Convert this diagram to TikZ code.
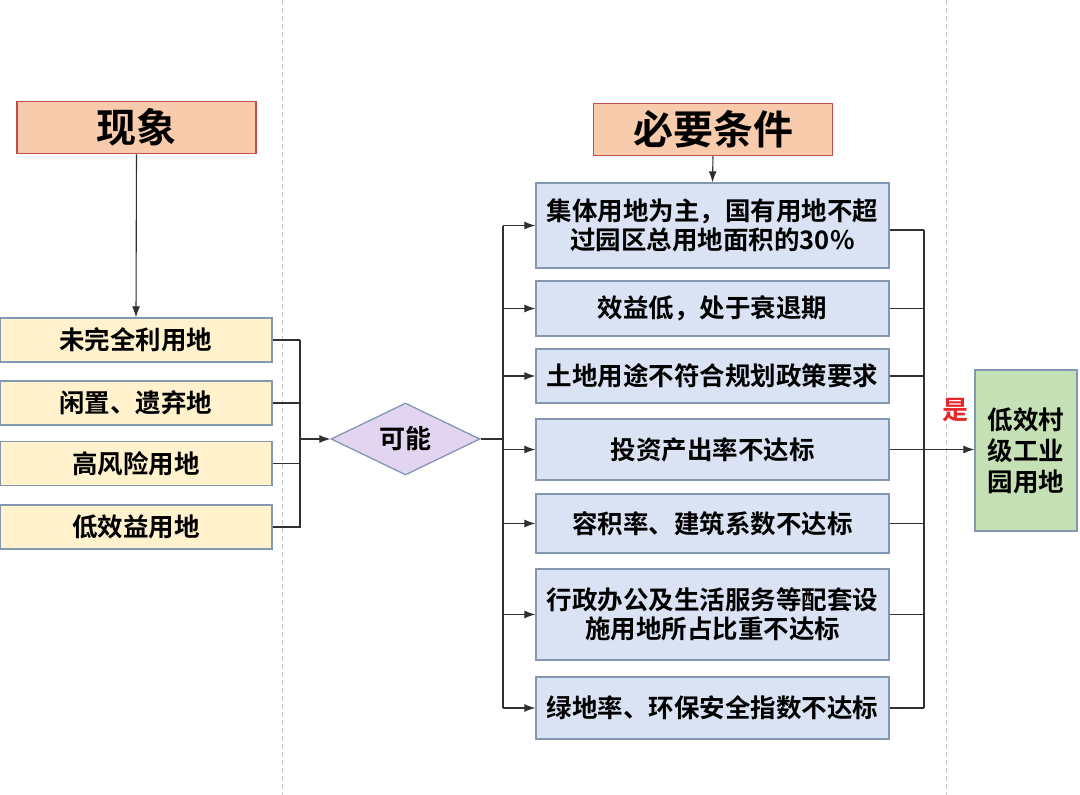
\documentclass[tikz,border=0pt]{standalone}
\usepackage{fontspec}
\setmainfont{Noto Sans CJK SC}[BoldFont={Noto Sans CJK SC Bold}]
\usetikzlibrary{shapes.geometric,arrows.meta}
\definecolor{hdfill}{HTML}{F8CBAD}
\definecolor{hdline}{HTML}{C0504D}
\definecolor{yfill}{HTML}{FFF2CC}
\definecolor{bfill}{HTML}{DAE3F3}
\definecolor{gfill}{HTML}{C5E0B4}
\definecolor{pfill}{HTML}{E2D5F2}
\definecolor{bline}{HTML}{8497B0}
\definecolor{cline}{HTML}{303030}
\definecolor{sep}{HTML}{C8C8C8}
\definecolor{yesred}{HTML}{E8262A}
\tikzset{
  hdbox/.style={draw=hdline,line width=1.5pt,fill=hdfill,minimum width=239pt,minimum height=52pt,inner sep=0pt,font=\fontsize{40}{44}\selectfont\bfseries},
  ybox/.style={draw=bline,line width=1.3pt,fill=yfill,minimum width=272pt,minimum height=44pt,inner sep=0pt,font=\fontsize{25.5}{30}\selectfont\bfseries},
  rbox/.style={draw=bline,line width=1.3pt,fill=bfill,minimum width=353pt,inner sep=0pt,align=center,font=\fontsize{25.5}{29.5}\selectfont\bfseries},
  gbox/.style={draw=bline,line width=1.3pt,fill=gfill,minimum width=102pt,minimum height=161pt,inner sep=0pt,align=center,font=\fontsize{25.5}{31}\selectfont\bfseries},
  dia/.style={diamond,draw=bline,line width=1.3pt,fill=pfill,minimum width=149pt,minimum height=72pt,inner sep=0pt,aspect=2.07,font=\fontsize{26}{30}\selectfont\bfseries},
  conn/.style={draw=cline,line width=1.1pt},
  arr/.style={conn,-{Latex[length=11pt,width=8pt]}},
  sepline/.style={draw=sep,line width=1pt,dash pattern=on 5pt off 3pt}
}
\begin{document}
\begin{tikzpicture}[x=1pt,y=-1pt]
\useasboundingbox[fill=white] (0,0) rectangle (1080,795);
\draw[sepline] (282,0) -- (282,795);
\draw[sepline] (946,0) -- (946,795);

\node[hdbox] (xx) at (136.5,127.5) {现象};
\node[hdbox] (bytj) at (713,129.5) {必要条件};

\node[ybox] (a1) at (136,340) {未完全利用地};
\node[ybox] (a2) at (136,403) {闲置、遗弃地};
\node[ybox] (a3) at (136,463.5) {高风险用地};
\node[ybox] (a4) at (136,527) {低效益用地};

\node[dia] (kn) at (405.5,439) {可能};

\node[rbox,minimum height=85pt] (r1) at (712.5,225.5) {集体用地为主，国有用地不超\\过园区总用地面积的30\%};
\node[rbox,minimum height=55pt] (r2) at (712.5,308.5) {效益低，处于衰退期};
\node[rbox,minimum height=54pt] (r3) at (712.5,376) {土地用途不符合规划政策要求};
\node[rbox,minimum height=61pt] (r4) at (712.5,449.5) {投资产出率不达标};
\node[rbox,minimum height=59pt] (r5) at (712.5,523.5) {容积率、建筑系数不达标};
\node[rbox,minimum height=91pt] (r6) at (712.5,614.5) {行政办公及生活服务等配套设\\施用地所占比重不达标};
\node[rbox,minimum height=62pt] (r7) at (712.5,708) {绿地率、环保安全指数不达标};

\node[gbox] (g) at (1026,450.5) {低效村\\级工业\\园用地};
\node[font=\fontsize{26}{30}\selectfont\bfseries,text=yesred] (yes) at (955,410) {是};

% arrows from headers
\draw[arr] (xx.south) -- (a1.north);
\draw[arr] (bytj.south) -- (r1.north);

% left bracket
\coordinate (lb) at (300,439);
\draw[conn] (a1.east) -| (300,340);
\draw[conn] (a2.east) -- (300,403);
\draw[conn] (a3.east) -- (300,463.5);
\draw[conn] (a4.east) -| (300,340);
\draw[arr] (lb) -- (kn.west);

% middle bracket
\coordinate (mb) at (503,439);
\draw[conn] (kn.east) -- (mb);
\draw[conn] (503,225.5) -- (503,708);
\foreach \r/\y in {r1/225.5,r2/308.5,r3/376,r4/449.5,r5/523.5,r6/614.5,r7/708}{
  \draw[arr] (503,\y) -- (\r.west);
}

% right bracket
\foreach \r/\y in {r1/230,r2/308.5,r3/376,r5/523.5,r6/614.5,r7/708}{
  \draw[conn] (\r.east |- 0,\y) -- (924,\y);
}
\draw[conn] (924,230) -- (924,708);
\draw[arr] (r4.east) -- (g.west |- r4.east);
\end{tikzpicture}
\end{document}
